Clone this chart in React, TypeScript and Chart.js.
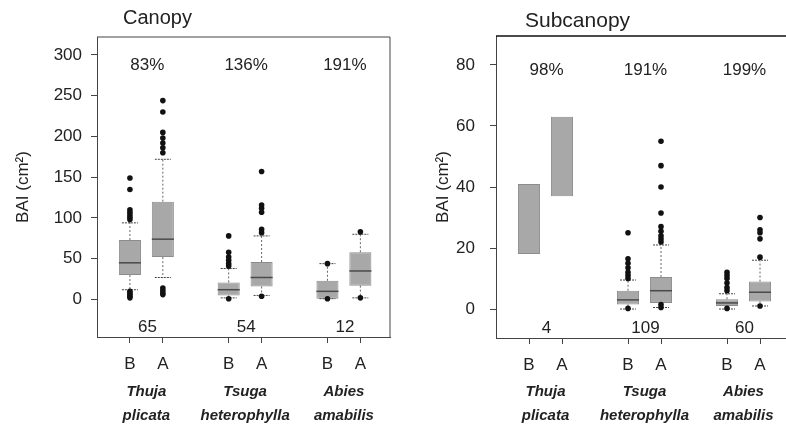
import React, { useEffect, useRef } from 'react';
import { Chart, registerables } from 'chart.js';

Chart.register(...registerables);

const FONT = '"Liberation Sans", Arial, Helvetica, sans-serif';

// ---- shared categories ----
const xPositions = [1, 2, 4, 5, 7, 8];
const xTickLabels = ['B', 'A', 'B', 'A', 'B', 'A'];
const speciesLine1 = ['Thuja', 'Tsuga', 'Abies'];
const speciesLine2 = ['plicata', 'heterophylla', 'amabilis'];

// ---- Canopy panel ----
const canopyYTicks = [0, 50, 100, 150, 200, 250, 300];
const canopyQ1 = [30, 52, 5, 16, 1, 17];
const canopyQ3 = [73, 120, 21, 46, 23, 58];
const canopyMedian = [45, 74, 12, 27, 10, 35];
const canopyLowWhisker = [12, 27, 2, 5, 1, 2];
const canopyHighWhisker = [94, 172, 38, 78, 44, 80];
const canopyOutliers = [
  [149, 135, 110, 107, 104, 101, 98, 10, 8, 6, 4, 2],
  [244, 230, 205, 198, 192, 186, 180, 14, 11, 8, 6],
  [78, 58, 52, 48, 44, 41, 1],
  [157, 116, 112, 107, 86, 82, 4],
  [44, 1],
  [83, 2],
];
const canopyPct = ['83%', '136%', '191%'];
const canopyN = ['65', '54', '12'];

// ---- Subcanopy panel ----
const subYTicks = [0, 20, 40, 60, 80];
const subQ1 = [18, 37, 1.5, 2, 1, 2.5];
const subQ3 = [41, 63, 6, 10.5, 3.2, 9];
const subMedian = [null, null, 3, 6, 2, 5.5];
const subLowWhisker = [null, null, 0, 0.5, 0, 1];
const subHighWhisker = [null, null, 9.5, 21, 5, 16];
const subOutliers = [
  [],
  [],
  [25, 16.5, 15, 13.5, 12, 11, 10, 0.2],
  [55, 47, 40, 31.5, 27, 25.5, 24, 23, 22, 1.5, 0.5],
  [12, 11, 10, 8.5, 7, 6, 0.2],
  [30, 26, 25, 23, 17, 1],
];
const subPct = ['98%', '191%', '199%'];
const subN = ['4', '109', '60'];

type Panel = {
  title: string;
  yMin: number;
  yMax: number;
  yTicks: number[];
  q1: (number | null)[];
  q3: (number | null)[];
  med: (number | null)[];
  lo: (number | null)[];
  hi: (number | null)[];
  outliers: number[][];
  pct: string[];
  counts: string[];
};

type Layout = {
  padTop: number;
  padRight: number;
  yAxisWidth: number;
  xAxisHeight: number;
  xMax: number;
  yTickPad: number;
  yTitlePad: number;
  xTickPad: number;
  titleDx: number;
  titleY: number;
  titleSize: number;
  pctDy: number;
  solidTop: boolean;
};

const canopyPanel: Panel = {
  title: 'Canopy',
  yMin: -46,
  yMax: 322,
  yTicks: canopyYTicks,
  q1: canopyQ1,
  q3: canopyQ3,
  med: canopyMedian,
  lo: canopyLowWhisker,
  hi: canopyHighWhisker,
  outliers: canopyOutliers,
  pct: canopyPct,
  counts: canopyN,
};

const subPanel: Panel = {
  title: 'Subcanopy',
  yMin: -9.5,
  yMax: 89.5,
  yTicks: subYTicks,
  q1: subQ1,
  q3: subQ3,
  med: subMedian,
  lo: subLowWhisker,
  hi: subHighWhisker,
  outliers: subOutliers,
  pct: subPct,
  counts: subN,
};

const canopyLayout: Layout = {
  padTop: 37,
  padRight: 10,
  yAxisWidth: 97,
  xAxisHeight: 91,
  xMax: 8.9,
  yTickPad: 9,
  yTitlePad: 13,
  xTickPad: 11,
  titleDx: 26,
  titleY: 24,
  titleSize: 20,
  pctDy: 28,
  solidTop: false,
};

const subLayout: Layout = {
  padTop: 36,
  padRight: 7,
  yAxisWidth: 96,
  xAxisHeight: 90,
  xMax: 9,
  yTickPad: 15,
  yTitlePad: 33,
  xTickPad: 11,
  titleDx: 29,
  titleY: 27,
  titleSize: 21,
  pctDy: 34,
  solidTop: true,
};

function makePlugin(p: Panel, L: Layout) {
  return {
    id: 'boxExtras',
    afterDatasetDraw(chart: any, args: any) {
      if (args.meta.type !== 'bar') return;
      const ctx = chart.ctx;
      const ys = chart.scales.y;
      args.meta.data.forEach((el: any, i: number) => {
        const cx = el.x;
        const w = el.width;
        ctx.save();
        if (p.hi[i] != null && p.lo[i] != null) {
          const q3p = ys.getPixelForValue(p.q3[i]);
          const q1p = ys.getPixelForValue(p.q1[i]);
          const hip = ys.getPixelForValue(p.hi[i]);
          const lop = ys.getPixelForValue(p.lo[i]);
          ctx.strokeStyle = '#666';
          ctx.lineWidth = 1;
          ctx.setLineDash([2, 2]);
          ctx.beginPath();
          ctx.moveTo(cx, q3p);
          ctx.lineTo(cx, hip);
          ctx.moveTo(cx, q1p);
          ctx.lineTo(cx, lop);
          ctx.stroke();
          ctx.setLineDash([2, 1]);
          ctx.strokeStyle = '#444';
          ctx.beginPath();
          ctx.moveTo(cx - 8, hip);
          ctx.lineTo(cx + 8, hip);
          ctx.moveTo(cx - 8, lop);
          ctx.lineTo(cx + 8, lop);
          ctx.stroke();
        }
        if (p.med[i] != null) {
          const mp = ys.getPixelForValue(p.med[i]);
          ctx.setLineDash([]);
          ctx.strokeStyle = '#4a4a4a';
          ctx.lineWidth = 1.5;
          ctx.beginPath();
          ctx.moveTo(cx - w / 2, mp);
          ctx.lineTo(cx + w / 2, mp);
          ctx.stroke();
        }
        ctx.restore();
      });
    },
    afterDraw(chart: any) {
      const ctx = chart.ctx;
      const a = chart.chartArea;
      const xs = chart.scales.x;
      ctx.save();
      // frame: top and right
      ctx.strokeStyle = L.solidTop ? '#111' : '#444';
      ctx.lineWidth = L.solidTop ? 1.6 : 1;
      ctx.beginPath();
      ctx.moveTo(a.left, a.top);
      ctx.lineTo(a.right, a.top);
      ctx.stroke();
      ctx.strokeStyle = '#444';
      ctx.lineWidth = 1;
      ctx.beginPath();
      ctx.moveTo(a.right, a.top);
      ctx.lineTo(a.right, a.bottom);
      ctx.stroke();

      // panel title
      ctx.fillStyle = '#222';
      ctx.textAlign = 'left';
      ctx.textBaseline = 'alphabetic';
      ctx.font = `${L.titleSize}px ${FONT}`;
      ctx.fillText(p.title, a.left + L.titleDx, L.titleY);

      // percentages, counts, species names
      for (let g = 0; g < 3; g++) {
        const cx =
          (xs.getPixelForValue(xPositions[2 * g]) + xs.getPixelForValue(xPositions[2 * g + 1])) / 2;
        ctx.textAlign = 'center';
        ctx.textBaseline = 'middle';
        ctx.font = `17px ${FONT}`;
        ctx.fillText(p.pct[g], cx + 1, a.top + L.pctDy);
        ctx.fillText(p.counts[g], cx + 1, a.bottom - 10);
        ctx.textBaseline = 'alphabetic';
        ctx.font = `italic bold 15px ${FONT}`;
        ctx.fillText(speciesLine1[g], cx, 396);
        ctx.fillText(speciesLine2[g], cx, 420);
      }
      ctx.restore();
    },
  };
}

function buildConfig(p: Panel, L: Layout): any {
  const boxData = p.q1.map((v, i) => ({ x: xPositions[i], y: [v, p.q3[i]] }));
  const outlierData: { x: number; y: number }[] = [];
  p.outliers.forEach((list, i) => list.forEach((v) => outlierData.push({ x: xPositions[i], y: v })));
  const tickFont = { family: FONT, size: 17 };
  return {
    type: 'bar',
    data: {
      datasets: [
        {
          type: 'bar',
          data: boxData,
          backgroundColor: '#a8a8a8',
          borderColor: '#8c8c8c',
          borderWidth: 1,
          borderSkipped: false,
          barPercentage: 0.67,
          categoryPercentage: 1,
          order: 1,
        },
        {
          type: 'scatter',
          data: outlierData,
          pointRadius: 2.8,
          pointBackgroundColor: '#111',
          pointBorderWidth: 0,
          order: 0,
        },
      ],
    },
    options: {
      responsive: false,
      animation: false,
      devicePixelRatio: 1,
      layout: { padding: { left: 0, right: L.padRight, top: L.padTop, bottom: 0 } },
      plugins: { legend: { display: false }, tooltip: { enabled: false }, title: { display: false } },
      scales: {
        x: {
          type: 'linear',
          min: 0,
          max: L.xMax,
          offset: false,
          afterBuildTicks: (ax: any) => {
            ax.ticks = xPositions.map((v) => ({ value: v }));
          },
          afterFit: (ax: any) => {
            ax.height = L.xAxisHeight;
          },
          grid: { drawOnChartArea: false, offset: false, drawTicks: true, tickLength: 6, color: '#444' },
          border: { display: true, color: '#444', width: 1 },
          ticks: {
            callback: (_v: any, i: number) => xTickLabels[i],
            padding: L.xTickPad,
            font: tickFont,
            color: '#222',
            maxRotation: 0,
            autoSkip: false,
          },
        },
        y: {
          type: 'linear',
          min: p.yMin,
          max: p.yMax,
          afterBuildTicks: (ax: any) => {
            ax.ticks = p.yTicks.map((v) => ({ value: v }));
          },
          afterFit: (ax: any) => {
            ax.width = L.yAxisWidth;
          },
          grid: { drawOnChartArea: false, drawTicks: true, tickLength: 6, color: '#444' },
          border: { display: true, color: '#444', width: 1 },
          ticks: { padding: L.yTickPad, font: tickFont, color: '#222' },
          title: {
            display: true,
            text: 'BAI (cm²)',
            font: { family: FONT, size: 17 },
            color: '#222',
            padding: { top: L.yTitlePad, bottom: 0 },
          },
        },
      },
    },
    plugins: [makePlugin(p, L)],
  };
}

function PanelChart({ panel, layout, left }: { panel: Panel; layout: Layout; left: number }) {
  const ref = useRef<HTMLCanvasElement | null>(null);
  useEffect(() => {
    if (!ref.current) return;
    const chart = new Chart(ref.current, buildConfig(panel, layout));
    return () => chart.destroy();
  }, [panel, layout]);
  return (
    <canvas
      ref={ref}
      width={400}
      height={428}
      style={{ position: 'absolute', left, top: 0, width: 400, height: 428, display: 'block' }}
    />
  );
}

export default function App() {
  return (
    <div
      style={{
        position: 'fixed',
        left: 0,
        top: 0,
        width: 786,
        height: 428,
        overflow: 'hidden',
        background: '#fff',
      }}
    >
      <PanelChart panel={canopyPanel} layout={canopyLayout} left={0} />
      <PanelChart panel={subPanel} layout={subLayout} left={400} />
    </div>
  );
}
